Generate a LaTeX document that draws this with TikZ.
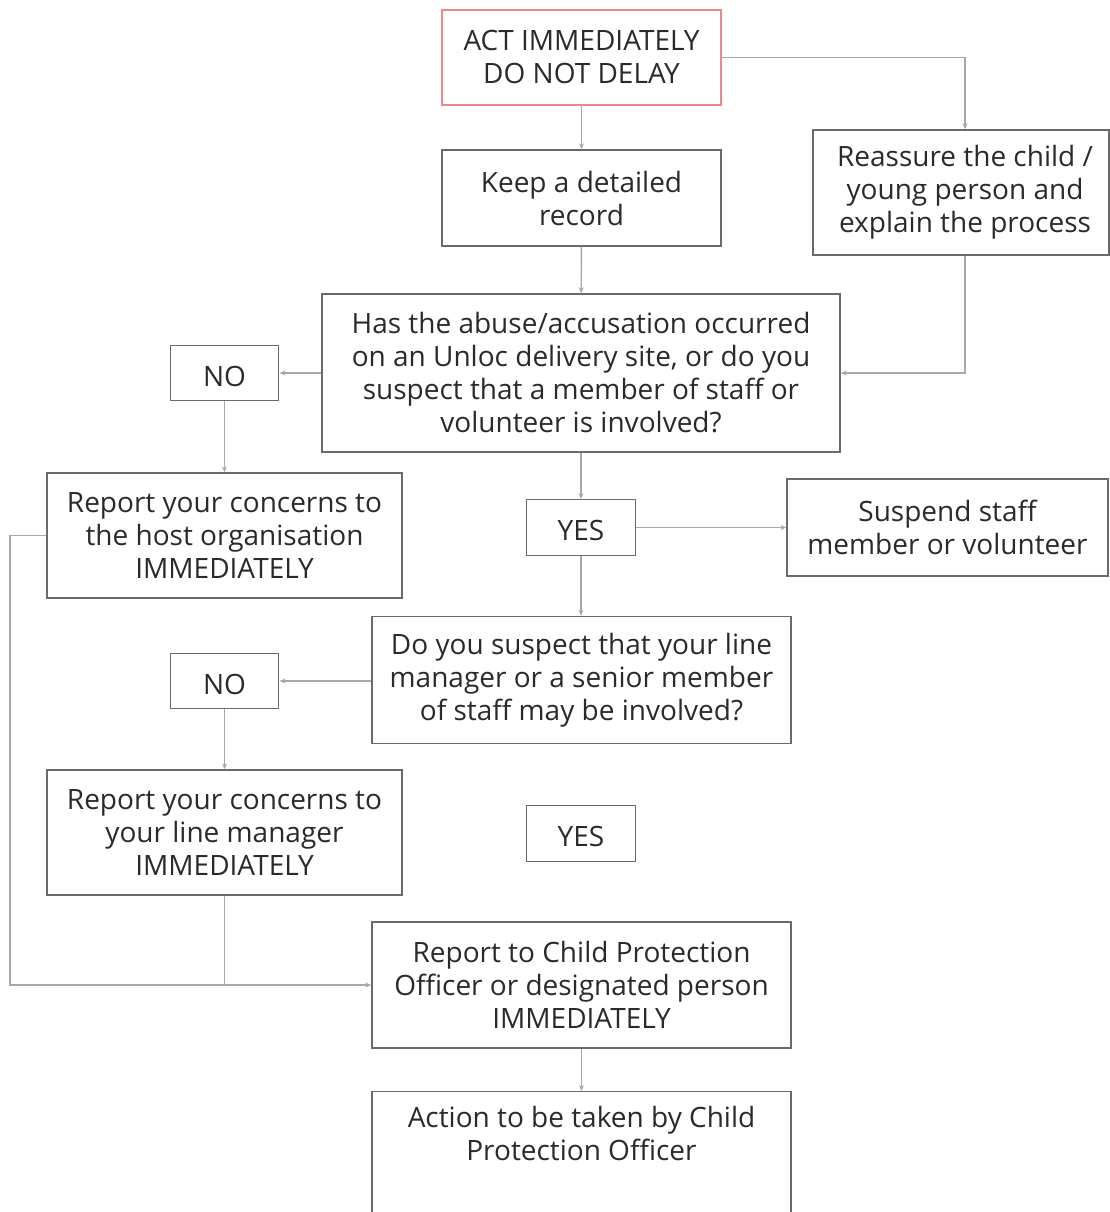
\documentclass[tikz,border=0pt]{standalone}
\usepackage{fontspec}
\setmainfont{Open Sans}
\usetikzlibrary{arrows.meta}
\definecolor{boxline}{HTML}{6A6A6A}
\definecolor{arrline}{HTML}{A8A8A8}
\definecolor{txt}{HTML}{2A2A2A}
\definecolor{redline}{HTML}{EE8888}
\tikzset{
  box/.style={draw=boxline, line width=1.4pt, rectangle, align=center, text=txt,
    font=\fontsize{28}{33}\selectfont, inner sep=0pt},
  small/.style={box, text height=26pt, text depth=0pt, minimum width=108.5pt, minimum height=55.5pt},
  conn/.style={draw=arrline, line width=1.4pt},
  arr/.style={conn, -{Stealth[length=6pt,width=5pt]}},
}
\begin{document}
\begin{tikzpicture}[x=1pt,y=-1pt]
\useasboundingbox (0,0) rectangle (1109,1212);
\node[box, draw=redline, minimum width=279pt, minimum height=95pt] (act) at (581.5,57.5) {ACT IMMEDIATELY\\DO NOT DELAY};
\node[box, minimum width=279pt, minimum height=96pt] (keep) at (581.5,198) {Keep a detailed\\record};
\node[box, minimum width=296pt, minimum height=125pt] (reas) at (961,192.5) {};
\node[text=txt, font=\fontsize{28}{33}\selectfont, align=center, inner sep=0pt] (reastxt) at (965,192.5) {Reassure the child /\\young person and\\explain the process};
\node[box, minimum width=518pt, minimum height=158pt] (has) at (581,373) {Has the abuse/accusation occurred\\on an Unloc delivery site, or do you\\suspect that a member of staff or\\volunteer is involved?};
\node[small] (no1) at (224.5,373) {NO};
\node[box, minimum width=355pt, minimum height=125pt] (host) at (224.5,535.5) {Report your concerns to\\the host organisation\\IMMEDIATELY};
\node[small] (yes1) at (581,527.5) {YES};
\node[box, minimum width=321pt, minimum height=97pt] (susp) at (947.5,527.5) {Suspend staff\\member or volunteer};
\node[box, minimum width=419pt, minimum height=127pt] (doyou) at (581.5,680) {Do you suspect that your line\\manager or a senior member\\of staff may be involved?};
\node[small] (no2) at (224.5,681) {NO};
\node[box, minimum width=355pt, minimum height=125pt] (line) at (224.5,832.5) {Report your concerns to\\your line manager\\IMMEDIATELY};
\node[small] (yes2) at (581,833.5) {YES};
\node[box, minimum width=419pt, minimum height=126pt] (cpo) at (581.5,985) {Report to Child Protection\\Officer or designated person\\IMMEDIATELY};
\node[box, minimum width=419pt, minimum height=200pt, anchor=north] (action) at (581.5,1091) {};
\node[text=txt, font=\fontsize{28}{33}\selectfont, align=center, anchor=north, inner sep=0pt] (actiontxt) at (581.5,1106) {Action to be taken by Child\\Protection Officer};
\coordinate (j1) at (965,57.5);
\coordinate (j2) at (965,373);
\coordinate (l1) at (10,535.5);
\coordinate (l2) at (10,985);
\coordinate (m1) at (224.5,985);
\draw[arr] (act) -- (keep);
\draw[arr] (act.east |- j1) -- (j1) -- (reas.north -| j1);
\draw[arr] (keep) -- (has);
\draw[arr] (reas.south -| j2) -- (j2) -- (has.east |- j2);
\draw[arr] (has.west |- no1.east) -- (no1.east);
\draw[arr] (no1) -- (host);
\draw[arr] (has.south -| yes1) -- (yes1.north);
\draw[arr] (yes1.east) -- (susp.west |- yes1.east);
\draw[arr] (yes1.south) -- (doyou.north -| yes1);
\draw[arr] (doyou.west |- no2.east) -- (no2.east);
\draw[arr] (no2) -- (line);
\draw[arr] (host.west) -- (l1) -- (l2) -- (cpo.west);
\draw[conn] (line.south) -- (m1);
\draw[arr] (cpo) -- (action);
\end{tikzpicture}
\end{document}
